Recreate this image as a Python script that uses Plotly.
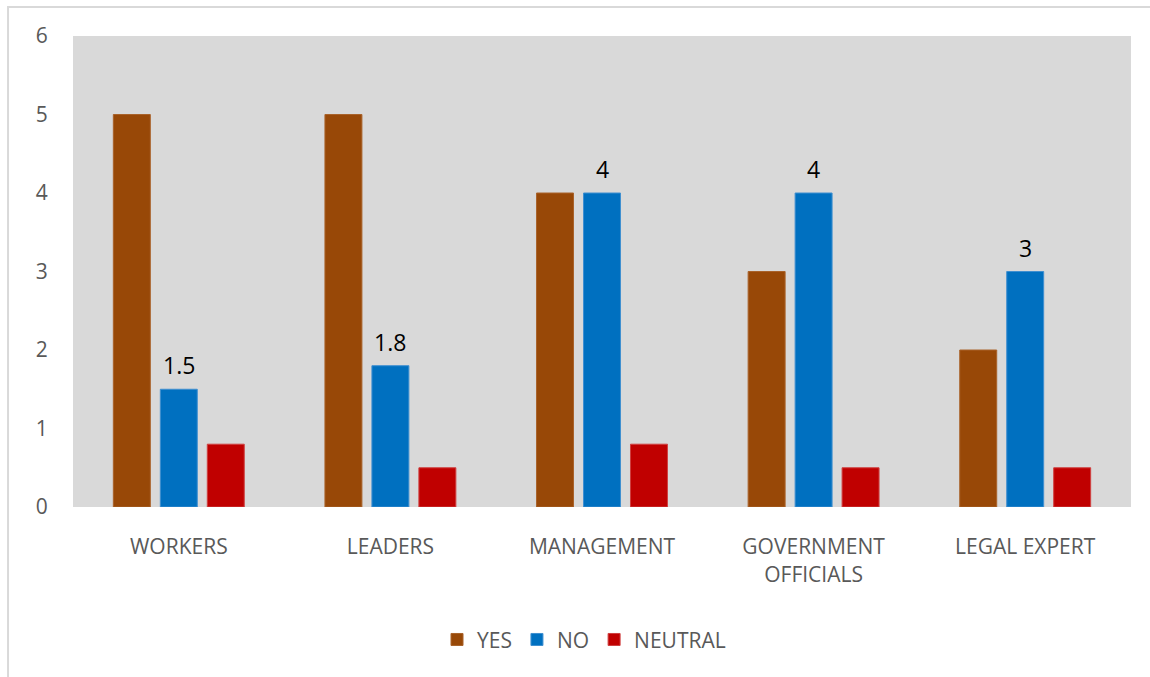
import plotly.graph_objects as go

categories = ["WORKERS", "LEADERS", "MANAGEMENT", "GOVERNMENT<br>OFFICIALS", "LEGAL EXPERT"]
yes_vals = [5, 5, 4, 3, 2]
no_vals = [1.5, 1.8, 4, 4, 3]
neutral_vals = [0.8, 0.5, 0.8, 0.5, 0.5]
y_ticks = [0, 1, 2, 3, 4, 5, 6]

FONT = "Open Sans, Liberation Sans, sans-serif"
GRAY = "#595959"

fig = go.Figure()
fig.add_trace(go.Bar(name="YES", x=categories, y=yes_vals,
                     marker=dict(color="#984807", line=dict(color="#a9622a", width=1))))
fig.add_trace(go.Bar(name="NO", x=categories, y=no_vals,
                     marker=dict(color="#0070C0", line=dict(color="#3f8fd0", width=1))))
fig.add_trace(go.Bar(name="NEUTRAL", x=categories, y=neutral_vals,
                     marker=dict(color="#C00000", line=dict(color="#cf4040", width=1))))

# value labels above the NO bars (middle bar of each group)
annotations = [
    dict(x=c, y=v, xref="x", yref="y", text=f"{v:g}", showarrow=False,
         yanchor="middle", yshift=24,
         font=dict(color="#000000", size=23, family=FONT))
    for c, v in zip(categories, no_vals)
]

fig.update_layout(
    width=1150, height=677,
    margin=dict(l=73, r=19, t=36, b=170),
    paper_bgcolor="#ffffff",
    plot_bgcolor="#D9D9D9",
    barmode="group",
    bargap=0.334,
    bargroupgap=0.213,
    font=dict(family=FONT, color=GRAY, size=21),
    showlegend=True,
    legend=dict(orientation="h", x=0.483, xanchor="center", y=-0.282, yanchor="middle",
                font=dict(size=21, color=GRAY, family=FONT),
                itemwidth=30, traceorder="normal"),
    xaxis=dict(showgrid=False, zeroline=False, showline=False,
               ticks="outside", ticklen=21, tickcolor="rgba(0,0,0,0)",
               tickfont=dict(size=21, color=GRAY, family=FONT)),
    yaxis=dict(range=[0, 6], tickvals=y_ticks, showgrid=False, zeroline=False,
               showline=False, ticks="outside", ticklen=20, tickcolor="rgba(0,0,0,0)",
               tickfont=dict(size=21, color=GRAY, family=FONT)),
    annotations=annotations,
    shapes=[dict(type="rect", xref="paper", yref="paper",
                 x0=-0.0614, x1=1.2, y0=-0.5, y1=1.0616,
                 line=dict(color="#d9d9d9", width=2), fillcolor="rgba(0,0,0,0)",
                 layer="below")],
)

fig.write_html("out.html")
